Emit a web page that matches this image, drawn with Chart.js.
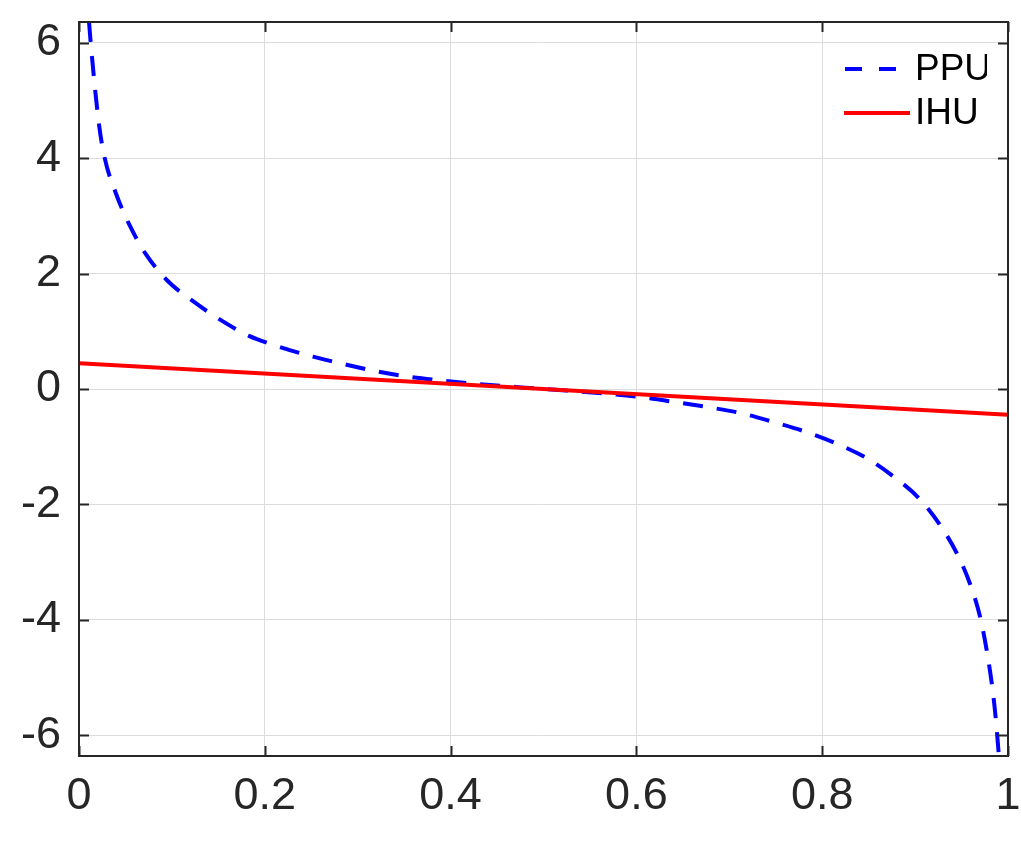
<!DOCTYPE html>
<html>
<head>
<meta charset="utf-8">
<script src="https://cdn.jsdelivr.net/npm/chart.js@4.4.1/dist/chart.umd.min.js"></script>
<style>
  html, body { margin: 0; padding: 0; background: #fff; }
  #wrap { width: 1021px; height: 857px; }
</style>
</head>
<body>
<div id="wrap"><canvas id="myChart" width="1021" height="857"></canvas></div>
<script>
// values
const ppuX = [0.0108, 0.0126, 0.0215, 0.0277, 0.040, 0.0538, 0.0718, 0.095, 0.122, 0.151,
  0.183, 0.212, 0.252, 0.288, 0.322, 0.356, 0.394, 0.428, 0.5, 0.572,
  0.607, 0.643, 0.679, 0.713, 0.747, 0.782, 0.816, 0.848, 0.877, 0.904,
  0.927, 0.945, 0.959, 0.970, 0.977, 0.983, 0.987, 0.990];
const ppuY = [6.36, 6.0, 4.59, 4.0, 3.38, 2.86, 2.34, 1.88, 1.53, 1.21,
  0.92, 0.75, 0.56, 0.42, 0.30, 0.21, 0.14, 0.087, 0, -0.087,
  -0.145, -0.23, -0.32, -0.42, -0.57, -0.74, -0.95, -1.20, -1.52, -1.89,
  -2.36, -2.85, -3.37, -3.95, -4.52, -5.16, -5.74, -6.32];
const ihuX = [0, 1];
const ihuY = [0.445, -0.445];

const xTicks = [0, 0.2, 0.4, 0.6, 0.8, 1];
const yTicks = [-6, -4, -2, 0, 2, 4, 6];
const seriesNames = ['PPU', 'IHU'];

const axisColor = '#262626';
const gridColor = '#dcdcdc';
const fontFamily = '"Liberation Sans", Arial, Helvetica, sans-serif';

const toPoints = (xs, ys) => xs.map((x, i) => ({ x: x, y: ys[i] }));

// MATLAB style box with inward ticks + legend
const boxPlugin = {
  id: 'boxPlugin',
  afterDatasetsDraw(chart) {
    const ctx = chart.ctx;
    const a = chart.chartArea;
    const xs = chart.scales.x, ys = chart.scales.y;
    const tl = 10;
    ctx.save();
    ctx.strokeStyle = axisColor;
    ctx.lineWidth = 2;
    ctx.strokeRect(a.left, a.top, a.right - a.left, a.bottom - a.top);
    ctx.beginPath();
    xTicks.forEach(v => {
      const px = Math.round(xs.getPixelForValue(v)) + 0.5;
      ctx.moveTo(px, a.bottom); ctx.lineTo(px, a.bottom - tl);
      ctx.moveTo(px, a.top); ctx.lineTo(px, a.top + tl);
    });
    yTicks.forEach(v => {
      const py = Math.round(ys.getPixelForValue(v)) + 0.5;
      ctx.moveTo(a.left, py); ctx.lineTo(a.left + tl, py);
      ctx.moveTo(a.right, py); ctx.lineTo(a.right - tl, py);
    });
    ctx.stroke();

    // legend
    ctx.beginPath();
    ctx.rect(832, 45, 155, 111);
    ctx.clip();
    ctx.fillStyle = '#fff';
    ctx.fillRect(832, 45, 155, 111);
    ctx.lineWidth = 4;
    ctx.strokeStyle = '#0000ff';
    ctx.setLineDash([17, 17]);
    ctx.beginPath();
    ctx.moveTo(845, 69); ctx.lineTo(897, 69);
    ctx.stroke();
    ctx.setLineDash([]);
    ctx.strokeStyle = '#ff0000';
    ctx.beginPath();
    ctx.moveTo(844, 113); ctx.lineTo(910, 113);
    ctx.stroke();
    ctx.fillStyle = '#000';
    ctx.font = '37px ' + fontFamily;
    ctx.textBaseline = 'middle';
    ctx.fillText(seriesNames[0], 915, 70);
    ctx.fillText(seriesNames[1], 915, 114);
    ctx.restore();
  }
};

const config = {
  type: 'scatter',
  data: {
    datasets: [
      {
        label: seriesNames[0],
        data: toPoints(ppuX, ppuY),
        showLine: true,
        borderColor: '#0000ff',
        borderWidth: 4,
        borderDash: [20, 14],
        pointRadius: 0,
        cubicInterpolationMode: 'monotone',
        order: 1
      },
      {
        label: seriesNames[1],
        data: toPoints(ihuX, ihuY),
        showLine: true,
        borderColor: '#ff0000',
        borderWidth: 4,
        pointRadius: 0,
        order: 0
      }
    ]
  },
  options: {
    responsive: false,
    animation: false,
    layout: { padding: { top: 22, right: 13, left: 0, bottom: 0 } },
    plugins: {
      legend: { display: false },
      tooltip: { enabled: false }
    },
    scales: {
      x: {
        type: 'linear',
        min: 0,
        max: 1,
        afterBuildTicks: (s) => { s.ticks = xTicks.map(v => ({ value: v })); },
        afterFit: (s) => {
          s.height = 101;
          s.paddingLeft = 0; s.paddingRight = 0;
        },
        grid: { color: gridColor, lineWidth: 1, drawTicks: false },
        border: { display: false },
        ticks: {
          color: axisColor,
          font: { family: fontFamily, size: 45 },
          padding: 14,
          maxRotation: 0,
          callback: (v) => String(v)
        }
      },
      y: {
        type: 'linear',
        min: -6.36,
        max: 6.36,
        afterBuildTicks: (s) => { s.ticks = yTicks.map(v => ({ value: v })); },
        afterFit: (s) => {
          s.width = 79;
          s.paddingTop = 0; s.paddingBottom = 0;
        },
        grid: { color: gridColor, lineWidth: 1, drawTicks: false },
        border: { display: false },
        ticks: {
          color: axisColor,
          font: { family: fontFamily, size: 45 },
          padding: 18,
          callback: (v) => String(v)
        }
      }
    }
  },
  plugins: [boxPlugin]
};

const myChart = new Chart(document.getElementById('myChart'), config);
</script>
</body>
</html>
